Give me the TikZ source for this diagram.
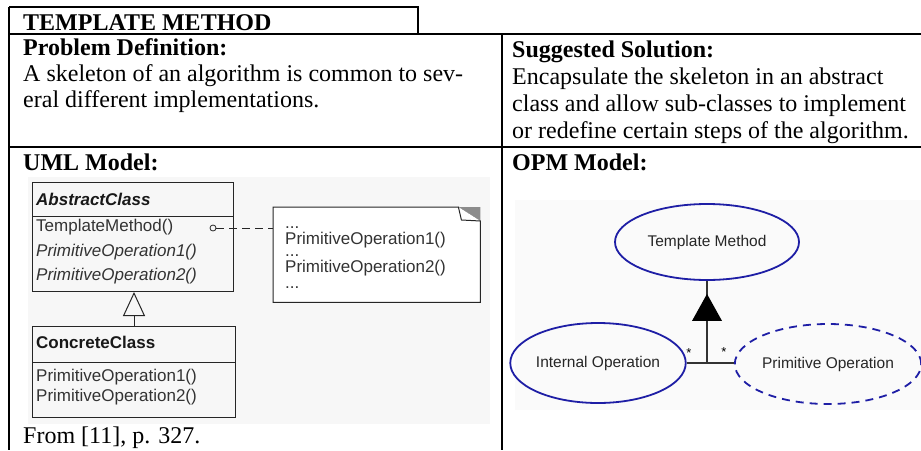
\documentclass[tikz,border=0pt]{standalone}
\usepackage{fontspec}
\setmainfont{Liberation Serif}
\newfontfamily\umlfont{Liberation Sans}
\usetikzlibrary{shapes.geometric,arrows.meta,calc}
\definecolor{opmblue}{RGB}{30,30,165}
\begin{document}
\begin{tikzpicture}[x=1pt,y=-1pt,
  frame/.style={line width=2pt, black},
  body/.style={anchor=base west, inner sep=0, font=\fontsize{24}{27}\selectfont},
  head/.style={anchor=base west, inner sep=0, font=\fontsize{24}{27}\selectfont\bfseries},
  umltext/.style={anchor=base west, inner sep=0, text=black!80, font=\umlfont\fontsize{17}{20}\selectfont},
  umlital/.style={umltext, font=\umlfont\fontsize{17}{20}\selectfont\itshape},
  umlname/.style={umltext, text=black!90, font=\umlfont\fontsize{17}{20}\selectfont\bfseries},
  umlline/.style={draw=black!85, line width=1pt},
  classbox/.style={umlline, anchor=north west, inner sep=0, minimum width=#1},
  opm/.style={ellipse, draw=opmblue, line width=1.8pt, inner sep=0, text=black!85,
    font=\umlfont\fontsize{15.5}{18}\selectfont},
  opmline/.style={draw=black!80, line width=2pt},
  mult/.style={inner sep=0, font=\umlfont\fontsize{13}{14}\selectfont}]
\useasboundingbox (0,0) rectangle (921,450);
% table frame
\draw[frame] (9,7) -- (418,7) -- (418,34);
\draw[frame] (9,7) -- (9,450);
\draw[frame] (9,34) -- (921,34);
\draw[frame] (502,34) -- (502,450);
\draw[frame] (9,147) -- (921,147);
% texts
\node[head] (title) at (23,30) {TEMPLATE METHOD};
\node[head] (pdh) at (23,55) {Problem Definition:};
\node[body] (pd1) at (23,81) {A skeleton of an algorithm is common to sev-};
\node[body] (pd2) at (23,107) {eral different implementations.};
\node[head] (ssh) at (512,57) {Suggested Solution:};
\node[body] (ss1) at (512,84) {Encapsulate the skeleton in an abstract};
\node[body] (ss2) at (512,111) {class and allow sub-classes to implement};
\node[body] (ss3) at (512,138) {or redefine certain steps of the algorithm.};
\node[head] (umlh) at (23,170) {UML Model:};
\node[head] (opmh) at (512,170) {OPM Model:};
\node[body] (src) at (23,443) {From [11], p. 327.};
% UML model
\fill[black!3] (28,177) rectangle (490,424);
\node[classbox=201pt, minimum height=109pt] (abs) at (32,182) {};
\draw[umlline] ($(abs.north west)+(0,34)$) -- ($(abs.north east)+(0,34)$);
\node[umlname, font=\umlfont\fontsize{17}{20}\selectfont\bfseries\itshape] (absn) at (36,205) {AbstractClass};
\node[umltext] (absm1) at (36,231) {TemplateMethod()};
\node[umlital] (absm2) at (36,256) {PrimitiveOperation1()};
\node[umlital] (absm3) at (36,280) {PrimitiveOperation2()};
\node[circle, draw=black!85, line width=0.8pt, minimum size=6pt, inner sep=0] (hook) at (213,228) {};
\node[anchor=north west, inner sep=0, minimum width=207pt, minimum height=95pt] (note) at (273,207) {};
\draw[umlline, dash pattern=on 8pt off 5pt] (hook.east) -- (hook.east -| note.west);
\draw[umlline, fill=white] (note.north west) -- ($(note.north east)+(-22,0)$) -- ($(note.north east)+(0,14)$) -- (note.south east) -- (note.south west) -- cycle;
\fill[black!45] ($(note.north east)+(-22,0)$) -- (note.north east) -- ($(note.north east)+(0,14)$) -- cycle;
\draw[umlline, fill=white, line join=round] ($(note.north east)+(-22,0)$) -- ($(note.north east)+(-19,13)$) -- ($(note.north east)+(0,14)$);
\node[umltext] (n1) at (285,228) {...};
\node[umltext] (n2) at (285,244) {PrimitiveOperation1()};
\node[umltext] (n3) at (285,256) {...};
\node[umltext] (n4) at (285,272) {PrimitiveOperation2()};
\node[umltext] (n5) at (285,288) {...};
\node[classbox=203pt, minimum height=91pt] (con) at (32,326) {};
\draw[umlline] ($(con.north west)+(0,36)$) -- ($(con.north east)+(0,36)$);
\node[umlname] (conn) at (36,348) {ConcreteClass};
\node[umltext] (conm1) at (36,381) {PrimitiveOperation1()};
\node[umltext] (conm2) at (36,401) {PrimitiveOperation2()};
\draw[umlline, -{Triangle[open, length=24pt, width=22pt, line width=1pt]}] (con.north) -- (con.north |- abs.south);
% OPM model
\fill[black!2] (515,200) rectangle (921,410);
\node[opm, minimum width=184pt, minimum height=76pt] (tmo) at (707,242) {Template Method};
\node[opm, minimum width=158pt, minimum height=80pt] (io) at (598,363) {Internal Operation};
\node[opm, dash pattern=on 8pt off 6pt, minimum width=174pt, minimum height=80pt] (po) at (828,364) {Primitive Operation};
\coordinate (j) at (tmo.south |- io.east);
\draw[opmline] (tmo.south) -- (j);
\draw[opmline] (io.east) -- (io.east -| po.west);
\fill[black] ($(tmo.south)+(0,13)$) -- ++(-15,27) -- ++(30,0) -- cycle;
\node[mult] (m1) at (689,353) {*};
\node[mult] (m2) at (724,352) {*};
\end{tikzpicture}
\end{document}
